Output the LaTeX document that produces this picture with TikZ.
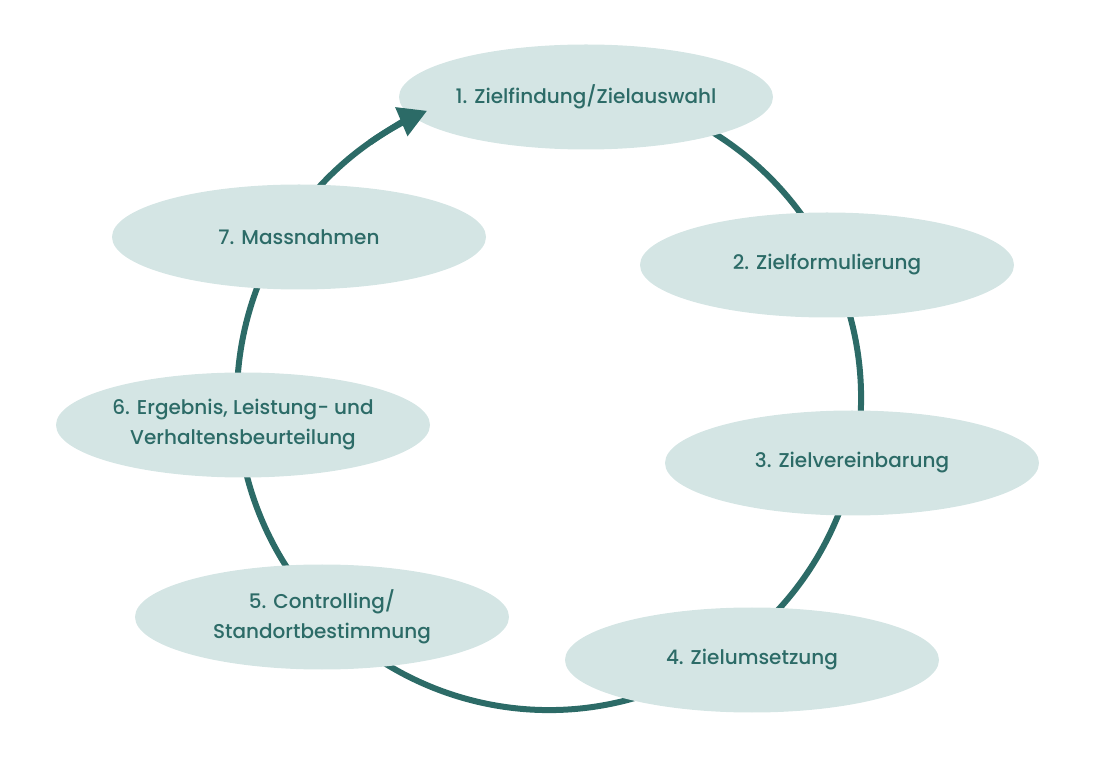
\documentclass[tikz,border=0pt]{standalone}
\usepackage{fontspec}
\setmainfont{Poppins}[UprightFont={* Medium}]
\usetikzlibrary{shapes.geometric,arrows.meta}
\definecolor{zielgruen}{HTML}{2C6B67}
\definecolor{zielhell}{HTML}{D4E5E4}
\begin{document}
\begin{tikzpicture}[x=1pt,y=1pt,
		schritt/.style={ellipse, fill=zielhell, text=zielgruen, minimum width=374pt, minimum height=105pt, inner sep=0pt, align=center, font=\fontsize{20}{30}\selectfont},
		kreis/.style={draw=zielgruen, line width=6pt}]
			\def\cx{549} 	\def\cy{374}	\def\rr{312}
			\useasboundingbox (0,0) rectangle (1096,772);
			\coordinate (mitte) at (\cx,\cy);
			\draw[kreis] (mitte) ++(110:\rr) arc[start angle=110, end angle=-242, radius=\rr];
			\node[schritt] (s1) at (586,675) {1. Zielfindung/Zielauswahl};
			\node[schritt] (s2) at (827,507) {2. Zielformulierung};
			\node[schritt] (s3) at (852,309) {3. Zielvereinbarung};
			\node[schritt] (s4) at (752,112) {4. Zielumsetzung};
			\node[schritt] (s5) at (322,155) {5. Controlling/\\Standortbestimmung};
			\node[schritt] (s6) at (243,347) {6. Ergebnis, Leistung- und\\Verhaltensbeurteilung};
			\node[schritt] (s7) at (299,535) {7. Massnahmen};
			\draw[kreis, -{Triangle[length=28pt,width=30pt]}] (mitte) ++(125:\rr) arc[start angle=125, end angle=113, radius=\rr];
		\end{tikzpicture}
\end{document}
